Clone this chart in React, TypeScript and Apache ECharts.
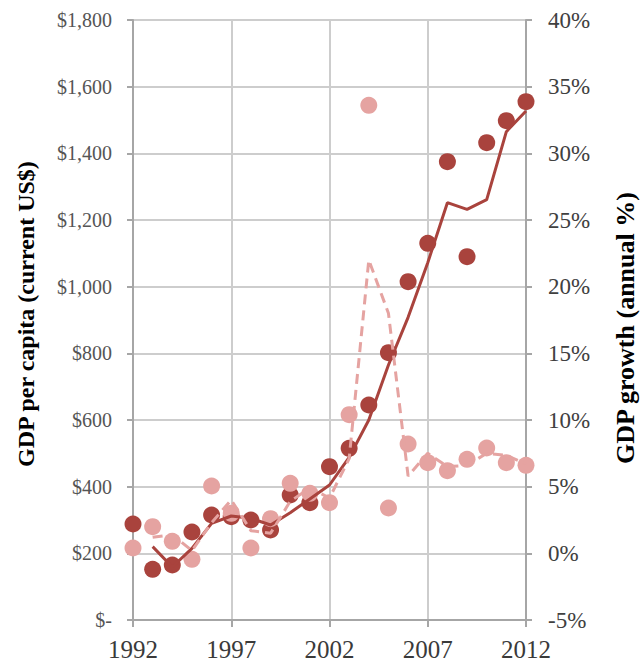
import React, { useEffect, useRef } from "react";
import * as echarts from "echarts";

const years = [
  "1992", "1993", "1994", "1995", "1996", "1997", "1998", "1999", "2000", "2001", "2002",
  "2003", "2004", "2005", "2006", "2007", "2008", "2009", "2010", "2011", "2012",
];

// GDP per capita (current US$) — dark dots
const gdpPerCapita = [
  288, 152, 165, 264, 315, 310, 300, 270, 375, 352, 460,
  515, 645, 802, 1015, 1130, 1375, 1090, 1432, 1498, 1555,
];

// moving-average trendline of GDP per capita (solid line)
const gdpPerCapitaTrend = [
  null, 220, 159, 215, 290, 312, 305, 285, 322, 363, 405,
  488, 600, 765, 908, 1072, 1252, 1232, 1261, 1465, 1527,
];

// GDP growth (annual %) — pink dots
const gdpGrowth = [
  0.4, 2.0, 0.9, -0.45, 5.05, 3.0, 0.4, 2.6, 5.25, 4.5, 3.8,
  10.4, 33.6, 3.4, 8.2, 6.8, 6.2, 7.05, 7.9, 6.8, 6.6,
];

// moving-average trendline of GDP growth (dashed line)
const gdpGrowthTrend = [
  null, 1.2, 1.4, 0.2, 2.3, 4.0, 1.7, 1.5, 3.9, 4.9, 4.15,
  7.1, 22.0, 18.0, 5.8, 7.5, 6.5, 6.6, 7.5, 7.35, 6.7,
];

const DARK = "#A9433D";
const PINK = "#E5A3A1";
const GRID = "#CDCDCD";
const AXIS = "#A6A6A6";
const SERIF = "'Liberation Serif', 'Times New Roman', serif";

export default function App() {
  const ref = useRef<HTMLDivElement>(null);

  useEffect(() => {
    if (!ref.current) return;
    const chart = echarts.init(ref.current, undefined, { renderer: "svg" });
    chart.setOption({
      animation: false,
      backgroundColor: "#ffffff",
      grid: { left: 133, right: 115, top: 20, bottom: 44, containLabel: false },
      xAxis: {
        type: "category",
        data: years,
        boundaryGap: false,
        axisLine: { show: true, lineStyle: { color: AXIS, width: 2 } },
        axisTick: { show: true, interval: 4, length: 7, lineStyle: { color: AXIS, width: 2 } },
        axisLabel: {
          interval: 4,
          margin: 17,
          fontFamily: SERIF,
          fontSize: 25,
          color: "#3a3a3a",
        },
        splitLine: { show: true, interval: 4, lineStyle: { color: GRID, width: 2 } },
      },
      yAxis: [
        {
          type: "value",
          min: 0,
          max: 1800,
          interval: 200,
          axisLine: { show: true, lineStyle: { color: AXIS, width: 2 } },
          axisTick: { show: true, length: 6, lineStyle: { color: AXIS, width: 2 } },
          axisLabel: {
            margin: 21,
            fontFamily: SERIF,
            fontSize: 20,
            color: "#555555",
            padding: [7, 0, 0, 0],
            formatter: (v: number) => (v === 0 ? "$-" : "$" + v.toLocaleString("en-US")),
          },
          splitLine: { show: true, lineStyle: { color: GRID, width: 2 } },
        },
        {
          type: "value",
          min: -5,
          max: 40,
          interval: 5,
          position: "right",
          axisLine: { show: true, lineStyle: { color: AXIS, width: 2 } },
          axisTick: { show: true, length: 6, lineStyle: { color: AXIS, width: 2 } },
          axisLabel: {
            margin: 22,
            fontFamily: SERIF,
            fontSize: 23,
            color: "#404040",
            padding: [9, 0, 0, 0],
            formatter: (v: number) => v + "%",
          },
          splitLine: { show: false },
        },
      ],
      graphic: [
        {
          type: "text",
          x: 26,
          y: 314,
          rotation: Math.PI / 2,
          style: {
            text: "GDP per capita (current US$)",
            font: `bold 24px ${SERIF}`,
            fill: "#000000",
            align: "center",
            verticalAlign: "middle",
          },
        },
        {
          type: "text",
          x: 625,
          y: 328,
          rotation: Math.PI / 2,
          style: {
            text: "GDP growth (annual %)",
            font: `bold 26px ${SERIF}`,
            fill: "#000000",
            align: "center",
            verticalAlign: "middle",
          },
        },
      ],
      series: [
        {
          name: "GDP per capita",
          type: "scatter",
          yAxisIndex: 0,
          data: gdpPerCapita,
          symbol: "circle",
          symbolSize: 17,
          itemStyle: { color: DARK, opacity: 1 },
          clip: false,
          z: 2,
        },
        {
          name: "GDP growth",
          type: "scatter",
          yAxisIndex: 1,
          data: gdpGrowth,
          symbol: "circle",
          symbolSize: 17,
          itemStyle: { color: PINK, opacity: 1 },
          clip: false,
          z: 3,
        },
        {
          name: "GDP per capita trend",
          type: "line",
          yAxisIndex: 0,
          data: gdpPerCapitaTrend,
          showSymbol: false,
          connectNulls: false,
          lineStyle: { color: DARK, width: 3 },
          z: 4,
        },
        {
          name: "GDP growth trend",
          type: "line",
          yAxisIndex: 1,
          data: gdpGrowthTrend,
          showSymbol: false,
          connectNulls: false,
          lineStyle: { color: PINK, width: 3, type: [10, 6] },
          z: 5,
        },
      ],
    });
    return () => chart.dispose();
  }, []);

  return (
    <div
      ref={ref}
      style={{ width: 641, height: 664, position: "absolute", left: 0, top: 0 }}
    />
  );
}
